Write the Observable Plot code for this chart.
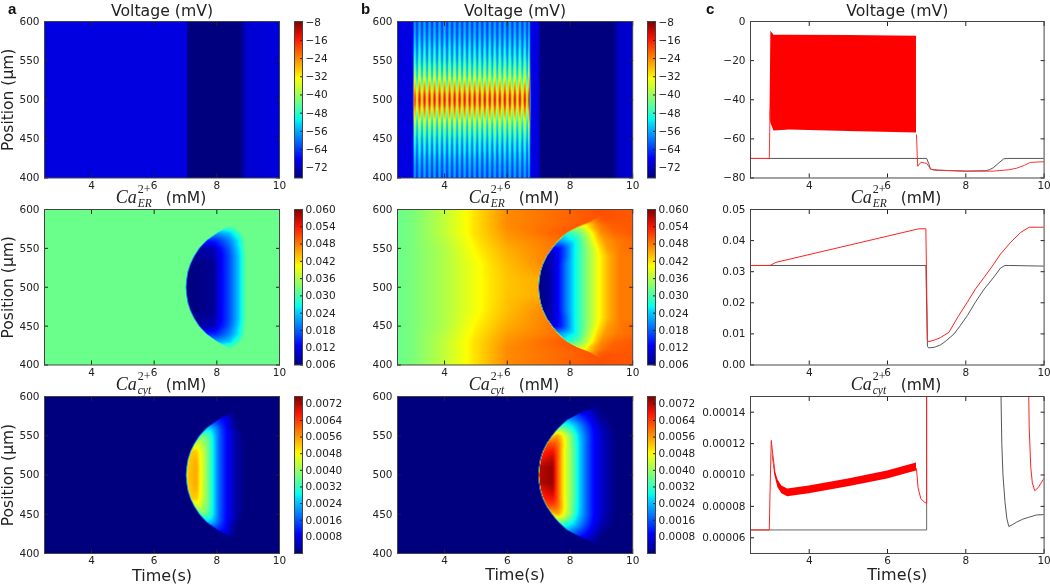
<!DOCTYPE html>
<html><head><meta charset="utf-8">
<script src="https://cdn.jsdelivr.net/npm/d3@7"></script>
<script src="https://cdn.jsdelivr.net/npm/@observablehq/plot@0.6"></script>
<style>
html,body{margin:0;padding:0;background:#fff}
#page{position:relative;width:1050px;height:584px;overflow:hidden;font-family:"DejaVu Sans",sans-serif;filter:blur(.35px)}
#page svg{position:absolute;background:transparent;overflow:visible}
.letter{position:absolute;font:bold 15px "Liberation Sans",sans-serif;color:#111}
.catitle{position:absolute;font-size:15.5px;color:#222;white-space:nowrap;transform:translateX(-50%);line-height:18px}
.catitle i{font-family:"Liberation Serif",serif;font-size:18px}
.catitle .stack{display:inline-block;position:relative;width:24px;height:18px;vertical-align:baseline}
.catitle .stack b,.catitle .stack em{position:absolute;left:1px;font-family:"Liberation Serif",serif;line-height:10px}
.catitle .stack b{top:-1px;font-weight:normal;font-size:12px}
.catitle .stack em{top:13px;font-size:11.5px}
</style></head><body><div id="page"></div>
<script>
// ---------- tick labels ----------
const timeTicks = [4, 6, 8, 10];
const positionTicks = [400, 450, 500, 550, 600];
const voltageBarTicks = [-72, -64, -56, -48, -40, -32, -24, -16, -8];
const erBarTicks = [0.006, 0.012, 0.018, 0.024, 0.03, 0.036, 0.042, 0.048, 0.054, 0.06];
const cytBarTicks = [0.0008, 0.0016, 0.0024, 0.0032, 0.004, 0.0048, 0.0056, 0.0064, 0.0072];
const voltageLineTicks = [-80, -60, -40, -20, 0];
const erLineTicks = [0, 0.01, 0.02, 0.03, 0.04, 0.05];
const cytLineTicks = [0.00006, 0.00008, 0.0001, 0.00012, 0.00014];

// ---------- colour map stops (fraction, colour) ----------
const jetFractions = [0, 0.11, 0.125, 0.35, 0.375, 0.5, 0.64, 0.66, 0.89, 1];
const jetColors = ["#00007f", "#0000f0", "#0000ff", "#00dbff", "#00ffef", "#7cff79", "#ffff00", "#ffe600", "#ff1300", "#7f0000"];

// ---------- heat-map tables: [distance from 500 µm, [time, value, time, value, ...]] ----------
const voltageARows = [
  [0, [2.5,-70, 7.03,-70, 7.08,-76.5, 8.75,-76.5, 8.95,-71, 10,-70]],
  [100, [2.5,-70, 7.03,-70, 7.08,-76.5, 8.75,-76.5, 8.95,-71, 10,-70]]
];
const erARows = [
  [0, [2.5,.032, 7.0,.032, 7.04,.006, 7.9,.007, 8.05,.011, 8.4,.017, 8.7,.024, 8.85,.029, 8.95,.032, 10,.032]],
  [10, [2.5,.032, 7.02,.032, 7.06,.006, 7.9,.007, 8.05,.011, 8.4,.017, 8.7,.024, 8.85,.029, 8.95,.032, 10,.032]],
  [20, [2.5,.032, 7.06,.032, 7.1,.006, 7.9,.007, 8.05,.011, 8.4,.017, 8.7,.024, 8.85,.029, 8.95,.032, 10,.032]],
  [30, [2.5,.032, 7.14,.032, 7.18,.006, 7.9,.007, 8.05,.011, 8.4,.017, 8.7,.024, 8.85,.029, 8.95,.032, 10,.032]],
  [40, [2.5,.032, 7.26,.032, 7.3,.007, 7.9,.008, 8.05,.011, 8.4,.017, 8.7,.024, 8.85,.029, 8.95,.032, 10,.032]],
  [50, [2.5,.032, 7.42,.032, 7.46,.008, 7.9,.009, 8.05,.012, 8.4,.018, 8.7,.025, 8.85,.03, 8.95,.032, 10,.032]],
  [55, [2.5,.032, 7.53,.032, 7.57,.011, 7.9,.012, 8.05,.014, 8.4,.019, 8.7,.026, 8.85,.03, 8.95,.032, 10,.032]],
  [60, [2.5,.032, 7.65,.032, 7.69,.014, 7.9,.0145, 8.0,.015, 8.4,.02, 8.7,.026, 8.85,.03, 8.92,.032, 10,.032]],
  [65, [2.5,.032, 7.82,.032, 7.86,.018, 7.95,.0185, 8.1,.019, 8.4,.022, 8.65,.027, 8.8,.03, 8.88,.032, 10,.032]],
  [70, [2.5,.032, 8.0,.032, 8.04,.022, 8.1,.0222, 8.2,.023, 8.4,.024, 8.6,.028, 8.72,.03, 8.8,.032, 10,.032]],
  [75, [2.5,.032, 8.2,.032, 8.25,.028, 8.3,.0282, 8.35,.0285, 8.5,.03, 8.6,.0308, 8.65,.0315, 8.7,.032, 10,.032]],
  [80, [2.5,.032, 8.5,.032, 8.5,.032, 8.5,.032, 8.5,.032, 8.5,.032, 8.5,.032, 8.5,.032, 8.5,.032, 10,.032]],
  [100, [2.5,.032, 8.5,.032, 8.5,.032, 8.5,.032, 8.5,.032, 8.5,.032, 8.5,.032, 8.5,.032, 8.5,.032, 10,.032]]
];
const cytARows = [
  [0, [2.5,0, 7.0,0, 7.05,.0052, 7.35,.0055, 7.5,.0047, 7.7,.0038, 7.9,.0027, 8.05,.0018, 8.3,.001, 8.6,.0003, 8.9,0, 10,0]],
  [10, [2.5,0, 7.02,0, 7.07,.0052, 7.35,.0055, 7.5,.0047, 7.7,.0038, 7.9,.0027, 8.05,.0018, 8.3,.001, 8.6,.0003, 8.9,0, 10,0]],
  [20, [2.5,0, 7.06,0, 7.11,.0052, 7.35,.0054, 7.5,.0047, 7.7,.0038, 7.9,.0027, 8.05,.0018, 8.3,.001, 8.6,.0003, 8.9,0, 10,0]],
  [30, [2.5,0, 7.14,0, 7.19,.0052, 7.35,.0052, 7.5,.0046, 7.7,.0038, 7.9,.0027, 8.05,.0018, 8.3,.001, 8.6,.0003, 8.9,0, 10,0]],
  [40, [2.5,0, 7.26,0, 7.31,.0044, 7.4,.0044, 7.5,.0043, 7.7,.0037, 7.9,.0027, 8.05,.0018, 8.3,.001, 8.6,.0003, 8.9,0, 10,0]],
  [50, [2.5,0, 7.42,0, 7.47,.0035, 7.55,.0036, 7.7,.0035, 7.85,.0029, 7.98,.0022, 8.1,.0016, 8.3,.001, 8.6,.0003, 8.85,0, 10,0]],
  [55, [2.5,0, 7.53,0, 7.58,.003, 7.65,.003, 7.8,.0029, 7.9,.0024, 8.0,.002, 8.15,.0014, 8.3,.001, 8.6,.0003, 8.8,0, 10,0]],
  [60, [2.5,0, 7.65,0, 7.7,.0026, 7.78,.0025, 7.9,.0022, 8.1,.0015, 8.2,.0012, 8.3,.001, 8.4,.0006, 8.55,.0003, 8.7,0, 10,0]],
  [65, [2.5,0, 7.82,0, 7.87,.0018, 7.95,.0016, 8.05,.0014, 8.15,.0012, 8.25,.001, 8.35,.0007, 8.5,.0003, 8.6,.0001, 8.68,0, 10,0]],
  [70, [2.5,0, 8.0,0, 8.05,.0012, 8.1,.0011, 8.15,.001, 8.2,.001, 8.3,.0008, 8.4,.0005, 8.5,.0003, 8.58,.0001, 8.65,0, 10,0]],
  [75, [2.5,0, 8.2,0, 8.28,.0006, 8.3,.0006, 8.35,.0005, 8.4,.0004, 8.45,.0003, 8.5,.0002, 8.55,.0001, 8.58,.00005, 8.6,0, 10,0]],
  [80, [2.5,0, 8.5,0, 8.5,0, 8.5,0, 8.5,0, 8.5,0, 8.5,0, 8.5,0, 8.5,0, 8.5,0, 8.5,0, 10,0]],
  [100, [2.5,0, 8.5,0, 8.5,0, 8.5,0, 8.5,0, 8.5,0, 8.5,0, 8.5,0, 8.5,0, 8.5,0, 8.5,0, 10,0]]
];
const spikeTimes = [3.04,3.2,3.36,3.52,3.68,3.84,4.0,4.16,4.32,4.48,4.64,4.8,4.96,5.12,5.28,5.44,5.6,5.76,5.92,6.08,6.24,6.4,6.56,6.7];
const troughTimes = [3.12,3.28,3.44,3.6,3.76,3.92,4.08,4.24,4.4,4.56,4.72,4.88,5.04,5.2,5.36,5.52,5.68,5.84,6.0,6.16,6.32,6.48,6.63];
const voltageBDistance = [0, 6, 12, 20, 30, 40, 50, 60, 70, 85, 100];
const voltageBPeak = [-9, -11, -16, -22, -30, -36, -41, -45, -48, -52, -54];
const voltageBTrough = [-38, -40, -44, -50, -55, -58, -60, -62, -64, -65, -66];
const voltageBLead = [2.5,-70, 2.99,-70];
const voltageBTail = [6.74,-70, 7.0,-70, 7.05,-76.5, 9.35,-76.5, 9.58,-71.5, 10,-71];
const erBRows = [
  [0, [2.5,.032, 3,.033, 4,.036, 5,.04, 6,.0435, 6.98,.045, 7.02,.006, 7.35,.008, 7.6,.012, 7.85,.019, 8.1,.025, 8.5,.033, 8.9,.04, 9.25,.045, 9.6,.048, 10,.048]],
  [10, [2.5,.032, 3,.033, 4,.036, 5,.04, 6,.0435, 7.0,.045, 7.04,.006, 7.35,.008, 7.6,.012, 7.85,.019, 8.1,.025, 8.5,.033, 8.9,.04, 9.25,.045, 9.6,.048, 10,.048]],
  [20, [2.5,.032, 3,.033, 4,.036, 5,.04, 6,.0438, 7.04,.046, 7.08,.006, 7.35,.008, 7.6,.012, 7.85,.019, 8.1,.025, 8.5,.033, 8.9,.04, 9.25,.045, 9.6,.048, 10,.048]],
  [30, [2.5,.032, 3,.033, 4,.036, 5,.04, 6,.044, 7.12,.047, 7.16,.007, 7.4,.009, 7.6,.012, 7.85,.019, 8.1,.025, 8.5,.033, 8.9,.04, 9.25,.045, 9.6,.048, 10,.048]],
  [40, [2.5,.032, 3,.033, 4,.036, 5,.0405, 6,.0445, 7.24,.0475, 7.28,.008, 7.5,.01, 7.7,.014, 7.9,.019, 8.1,.025, 8.5,.033, 8.9,.04, 9.25,.045, 9.6,.048, 10,.048]],
  [50, [2.5,.032, 3,.033, 4,.036, 5,.041, 6,.045, 7.41,.048, 7.45,.012, 7.55,.0125, 7.7,.014, 7.9,.019, 8.1,.025, 8.5,.033, 8.9,.041, 9.2,.046, 9.6,.048, 10,.049]],
  [60, [2.5,.032, 3,.033, 4,.0365, 5,.0415, 6,.0458, 7.61,.0485, 7.65,.022, 7.75,.0225, 7.9,.024, 8.05,.0255, 8.2,.027, 8.5,.034, 8.85,.042, 9.1,.046, 9.5,.048, 10,.049]],
  [70, [2.5,.032, 3,.033, 4,.037, 5,.042, 6,.0465, 7.88,.05, 7.92,.028, 8.0,.0285, 8.1,.03, 8.2,.031, 8.35,.033, 8.5,.036, 8.8,.043, 9.0,.047, 9.4,.049, 10,.05]],
  [77, [2.5,.032, 3,.033, 4,.037, 5,.042, 6,.047, 8.2,.05, 8.25,.036, 8.3,.0365, 8.35,.037, 8.4,.038, 8.45,.039, 8.55,.041, 8.75,.045, 9.0,.048, 9.3,.0495, 10,.05]],
  [84, [2.5,.032, 3,.033, 4,.037, 5,.042, 6,.047, 8.6,.05, 8.68,.046, 8.72,.0465, 8.76,.047, 8.8,.0475, 8.85,.048, 8.9,.049, 9.0,.0495, 9.2,.05, 9.5,.05, 10,.05]],
  [92, [2.5,.032, 3,.033, 4,.037, 5,.042, 6,.047, 9,.0505, 9,.0505, 9,.0505, 9,.0505, 9,.0505, 9,.0505, 9,.0505, 9,.0505, 9,.0505, 9,.0505, 10,.05]],
  [100, [2.5,.032, 3,.033, 4,.037, 5,.042, 6,.047, 9,.0505, 9,.0505, 9,.0505, 9,.0505, 9,.0505, 9,.0505, 9,.0505, 9,.0505, 9,.0505, 9,.0505, 10,.05]]
];
const cytBRows = [
  [0, [2.5,0, 6.98,0, 7.02,.0072, 7.45,.0074, 7.6,.0062, 7.75,.0052, 7.9,.0044, 8.1,.0036, 8.3,.0026, 8.5,.0018, 8.75,.001, 9.1,.0004, 9.5,0, 10,0]],
  [10, [2.5,0, 7.0,0, 7.04,.0072, 7.45,.0074, 7.6,.0062, 7.75,.0052, 7.9,.0044, 8.1,.0036, 8.3,.0026, 8.5,.0018, 8.75,.001, 9.1,.0004, 9.5,0, 10,0]],
  [20, [2.5,0, 7.04,0, 7.08,.0068, 7.45,.0072, 7.6,.0062, 7.75,.0052, 7.9,.0044, 8.1,.0036, 8.3,.0026, 8.5,.0018, 8.75,.001, 9.1,.0004, 9.5,0, 10,0]],
  [30, [2.5,0, 7.12,0, 7.16,.0066, 7.45,.0068, 7.6,.0062, 7.75,.0052, 7.9,.0044, 8.1,.0036, 8.3,.0026, 8.5,.0018, 8.75,.001, 9.1,.0004, 9.5,0, 10,0]],
  [40, [2.5,0, 7.24,0, 7.28,.0062, 7.5,.0062, 7.65,.0058, 7.8,.005, 7.95,.0042, 8.1,.0035, 8.3,.0026, 8.5,.0018, 8.75,.001, 9.1,.0004, 9.5,0, 10,0]],
  [50, [2.5,0, 7.41,0, 7.45,.0052, 7.6,.0055, 7.75,.005, 7.9,.0043, 8.0,.0039, 8.1,.0034, 8.3,.0025, 8.5,.0018, 8.75,.001, 9.1,.0004, 9.45,0, 10,0]],
  [60, [2.5,0, 7.61,0, 7.65,.0036, 7.72,.0036, 7.8,.0035, 7.9,.0033, 8.0,.0031, 8.1,.0028, 8.3,.0022, 8.5,.0016, 8.75,.0009, 9.1,.0003, 9.4,0, 10,0]],
  [70, [2.5,0, 7.88,0, 7.92,.0023, 8.0,.0022, 8.1,.002, 8.2,.0018, 8.3,.0016, 8.38,.00145, 8.45,.0013, 8.6,.001, 8.8,.0006, 9,.0002, 9.3,0, 10,0]],
  [77, [2.5,0, 8.2,0, 8.25,.0012, 8.3,.0012, 8.35,.0011, 8.4,.001, 8.5,.0009, 8.6,.0007, 8.7,.0005, 8.8,.0004, 8.9,.0002, 9,.0001, 9.1,0, 10,0]],
  [85, [2.5,0, 8.66,0, 8.72,.0002, 8.74,.0002, 8.76,.0002, 8.78,.00018, 8.8,.00015, 8.84,.0001, 8.88,.0001, 8.92,.00005, 8.95,.00004, 8.97,.00002, 9,0, 10,0]],
  [92, [2.5,0, 8.9,0, 8.9,0, 8.9,0, 8.9,0, 8.9,0, 8.9,0, 8.9,0, 8.9,0, 8.9,0, 8.9,0, 8.9,0, 8.9,0, 10,0]],
  [100, [2.5,0, 8.9,0, 8.9,0, 8.9,0, 8.9,0, 8.9,0, 8.9,0, 8.9,0, 8.9,0, 8.9,0, 8.9,0, 8.9,0, 8.9,0, 10,0]]
];

// ---------- trace panel values ----------
const vBlackT = [2.5, 7.0, 7.05, 7.1, 7.2, 8.0, 8.5, 8.6, 8.7, 8.85, 8.97, 9.05, 10];
const vBlackV = [-70, -70, -72.5, -75.5, -76, -76.5, -76.3, -75.8, -74.8, -72.2, -70.2, -70, -70];
const vRedT1 = [2.5, 2.98, 3.0];
const vRedV1 = [-70, -70, -45];
const vRedT2 = [6.74, 6.77, 6.85, 7.0, 7.05, 7.1, 7.3, 8.0, 8.7, 9.1, 9.3, 9.5, 9.65, 10];
const vRedV2 = [-58, -74, -72, -72.5, -74, -75.5, -76, -76.5, -76.5, -75.8, -75, -73.5, -72, -71.7];
const vBandT = [3.0, 3.02, 3.1, 3.5, 5, 6.74];
const vBandTop = [-45, -5, -7, -7, -7.2, -7.5];
const vBandBottom = [-50, -52, -56, -55.5, -56.2, -57];
const erBlackT = [2.5, 6.98, 7.02, 7.05, 7.2, 7.36, 7.5, 7.7, 7.85, 8.04, 8.25, 8.47, 8.7, 8.89, 9.0, 9.1, 10];
const erBlackV = [.032, .032, .006, .0055, .0057, .0065, .0078, .01, .0125, .0159, .0203, .0244, .028, .0312, .032, .032, .0318];
const erRedT = [2.5, 3.0, 3.15, 6.8, 6.98, 7.02, 7.05, 7.2, 7.35, 7.57, 7.8, 8.04, 8.25, 8.47, 8.7, 8.89, 9.15, 9.4, 9.62, 10];
const erRedV = [.032, .032, .033, .0438, .0438, .008, .0075, .008, .0088, .0105, .0155, .0202, .0245, .0282, .0322, .0357, .0395, .0426, .0443, .0443];
const cytBlackT1 = [2.5, 7.0, 7.0];
const cytBlackV1 = [.000065, .000065, .0002];
const cytBlackT2 = [8.88, 8.9, 8.92, 8.95, 9.0, 9.05, 9.1, 9.2, 9.3, 9.45, 9.6, 9.8, 10];
const cytBlackV2 = [.0002, .00015, .00012, .0001, .000083, .000072, .0000672, .0000685, .00007, .0000718, .000073, .0000745, .0000748];
const cytRedT1 = [2.5, 2.98, 3.0, 3.03, 3.07, 3.12];
const cytRedV1 = [.000065, .000065, .00009, .000122, .000113, .000103];
const cytRedT2 = [6.74, 6.78, 6.85, 6.95, 7.0, 7.0];
const cytRedV2 = [.000104, .000092, .000085, .0000825, .000082, .0002];
const cytRedT3 = [9.58, 9.62, 9.66, 9.7, 9.76, 9.85, 10];
const cytRedV3 = [.0002, .00013, .000105, .000095, .00009, .000092, .000098];
const cytBandT = [3.06, 3.12, 3.2, 3.3, 3.45, 4, 5, 6, 6.74];
const cytBandTop = [.000115, .000104, .000097, .000093, .000091, .000093, .0000975, .0001025, .0001076];
const cytBandBottom = [.000112, .0001, .000092, .000088, .0000862, .000088, .0000925, .0000975, .0001026];

const ink = "#222";
const jetScale = d3.scaleLinear().domain(jetFractions).range(jetColors).interpolate(d3.interpolateRgb).clamp(true);
const jet = (t) => jetScale(t);
const page = document.getElementById("page");
const noText = () => "";

function place(opts, box, m) {
  const p = Plot.plot({
    width: box[2] - box[0] + m[0] + m[1], height: box[3] - box[1] + m[2] + m[3],
    marginLeft: m[0], marginRight: m[1], marginTop: m[2], marginBottom: m[3],
    style: {background: "transparent", fontFamily: "DejaVu Sans, sans-serif", color: ink, overflow: "visible"},
    ...opts
  });
  p.style.left = (box[0] - m[0]) + "px";
  p.style.top = (box[1] - m[2]) + "px";
  page.appendChild(p);
}
function axes(yTicks, yFormat, fs = 10.5) {
  return [
    Plot.axisX({anchor: "bottom", ticks: timeTicks, tickSize: -4, tickPadding: 7.5, label: null, fontSize: fs, tickFormat: d3.format("d")}),
    Plot.axisX({anchor: "top", ticks: timeTicks, tickSize: -4, tickFormat: noText, label: null}),
    Plot.axisY({anchor: "left", ticks: yTicks, tickSize: -4, tickPadding: 9, label: null, fontSize: fs, tickFormat: yFormat}),
    Plot.axisY({anchor: "right", ticks: yTicks, tickSize: -4, tickFormat: noText, label: null}),
    Plot.frame({stroke: "#444", strokeWidth: 1})
  ];
}
function labels(title, row, col) {
  const out = [];
  if (title) out.push(Plot.text([title], {frameAnchor: "top", dy: -17, fontSize: 15.7, fill: ink}));
  if (row === 2) out.push(Plot.text(["Time(s)"], {frameAnchor: "bottom", dy: 27, fontSize: 16, fill: ink}));
  if (col === 0) out.push(Plot.text(["Position (μm)"], {frameAnchor: "left", dx: -36, rotate: -90, textAnchor: "middle", fontSize: 15.5, fill: ink}));
  return out;
}
function tableFill(rows) {
  return (t, pos) => {
    const d = Math.min(Math.abs(pos - 500), 100);
    let i = 0;
    while (i < rows.length - 2 && rows[i + 1][0] <= d) i++;
    const w = (d - rows[i][0]) / (rows[i + 1][0] - rows[i][0]);
    const a = rows[i][1], b = rows[i + 1][1];
    let prevT = a[0] * (1 - w) + b[0] * w, prevV = a[1] * (1 - w) + b[1] * w;
    for (let k = 2; k < a.length; k += 2) {
      const kt = a[k] * (1 - w) + b[k] * w, kv = a[k + 1] * (1 - w) + b[k + 1] * w;
      if (t <= kt) return kt > prevT ? prevV + (kv - prevV) * (t - prevT) / (kt - prevT) : kv;
      prevT = kt; prevV = kv;
    }
    return prevV;
  };
}
function voltageBRows() {
  return voltageBDistance.map((d, i) => {
    const mid = [];
    spikeTimes.forEach((t, k) => {
      mid.push(t, voltageBPeak[i]);
      if (k < troughTimes.length) mid.push(troughTimes[k], voltageBTrough[i]);
    });
    return [d, [...voltageBLead, ...mid, ...voltageBTail]];
  });
}
function heat(rows, domain, title, row, col, box) {
  place({
    x: {domain: [2.5, 10]}, y: {domain: [400, 600]},
    color: {type: "linear", domain, interpolate: jet, clamp: true},
    marks: [
      Plot.raster({x1: 2.5, x2: 10, y1: 400, y2: 600, fill: tableFill(rows)}),
      ...axes(positionTicks, d3.format("d")),
      ...labels(title, row, col)
    ]
  }, box, [44, 10, 22, 30]);
}
function bar(domain, ticks, fmt, box) {
  place({
    x: {domain: [0, 1], axis: null}, y: {domain},
    color: {type: "linear", domain, interpolate: jet, clamp: true},
    marks: [
      Plot.raster({x1: 0, x2: 1, y1: domain[0], y2: domain[1], fill: (x, y) => y}),
      Plot.axisY({anchor: "right", ticks, tickSize: -3, tickPadding: 6, label: null, fontSize: 10.5, tickFormat: fmt}),
      Plot.frame({stroke: "#444"})
    ]
  }, box, [2, 40, 2, 2]);
}
const xy = (T, V) => T.map((t, i) => ({t, v: V[i]}));
const band = (T, A, B) => T.map((t, i) => ({t, a: A[i], b: B[i]}));
const line = (d, stroke) => Plot.line(d, {x: "t", y: "v", stroke, strokeWidth: 1, clip: true, curve: "linear"});

const rowsY = [[21, 177.5], [209, 364.5], [396, 553]];
const colA = [44.3, 279.3], colB = [396.8, 632], colC = [749.7, 1043.3];
const barA = [293.5, 301.5], barB = [646.8, 654.8];
const box = (c, r) => [c[0], r[0], c[1], r[1]];
const vDomain = [-76.5, -7.7], erDomain = [0.006, 0.06], cytDomain = [0, 0.00755];

heat(voltageARows, vDomain, "Voltage (mV)", 0, 0, box(colA, rowsY[0]));
heat(erARows, erDomain, null, 1, 0, box(colA, rowsY[1]));
heat(cytARows, cytDomain, null, 2, 0, box(colA, rowsY[2]));
heat(voltageBRows(), vDomain, "Voltage (mV)", 0, 1, box(colB, rowsY[0]));
heat(erBRows, erDomain, null, 1, 1, box(colB, rowsY[1]));
heat(cytBRows, cytDomain, null, 2, 1, box(colB, rowsY[2]));

for (const b of [barA, barB]) {
  bar(vDomain, voltageBarTicks, d3.format("d"), box(b, rowsY[0]));
  bar(erDomain, erBarTicks, d3.format(".3f"), box(b, rowsY[1]));
  bar(cytDomain, cytBarTicks, d3.format(".4f"), box(b, rowsY[2]));
}

const mC = [50, 8, 22, 30];
place({
  x: {domain: [2.5, 10]}, y: {domain: [-80, 0]},
  marks: [
    Plot.areaY(band(vBandT, vBandTop, vBandBottom), {x: "t", y1: "a", y2: "b", fill: "#ff0000"}),
    line(xy(vBlackT, vBlackV), "#555"),
    line(xy(vRedT1, vRedV1), "#ff3030"),
    line(xy(vRedT2, vRedV2), "#ff3030"),
    ...axes(voltageLineTicks, d3.format("d")),
    ...labels("Voltage (mV)", 0, 2)
  ]
}, box(colC, rowsY[0]), mC);
place({
  x: {domain: [2.5, 10]}, y: {domain: [0, 0.05]},
  marks: [
    line(xy(erBlackT, erBlackV), "#555"),
    line(xy(erRedT, erRedV), "#ff2020"),
    ...axes(erLineTicks, d3.format(".2f"))
  ]
}, box(colC, rowsY[1]), mC);
place({
  x: {domain: [2.5, 10]}, y: {domain: [0.00005, 0.00015]},
  marks: [
    line(xy(cytBlackT1, cytBlackV1), "#666"),
    line(xy(cytBlackT2, cytBlackV2), "#555"),
    Plot.areaY(band(cytBandT, cytBandTop, cytBandBottom), {x: "t", y1: "a", y2: "b", fill: "#ff0000"}),
    line(xy(cytRedT1, cytRedV1), "#ff2020"),
    line(xy(cytRedT2, cytRedV2), "#ff2020"),
    line(xy(cytRedT3, cytRedV3), "#ff2020"),
    ...axes(cytLineTicks, d3.format(".5f")),
    ...labels(null, 2, 2)
  ]
}, box(colC, rowsY[2]), mC);

// Panel letters and the calcium titles
[["a", 8, 0], ["b", 361, 0], ["c", 706, 0]].forEach(([s, x, y]) => {
  const d = document.createElement("div");
  d.className = "letter"; d.textContent = s; d.style.left = x + "px"; d.style.top = y + "px";
  page.appendChild(d);
});
for (const [cx, sub, top] of [[161,"ER",185],[514,"ER",185],[896,"ER",185],[161,"cyt",372],[514,"cyt",372],[896,"cyt",372]]) {
  const d = document.createElement("div");
  d.className = "catitle";
  d.style.left = cx + "px"; d.style.top = top + "px";
  d.innerHTML = `<i>Ca</i><span class="stack"><b>2+</b><em>${sub}</em></span> (mM)`;
  page.appendChild(d);
}
</script></body></html>
